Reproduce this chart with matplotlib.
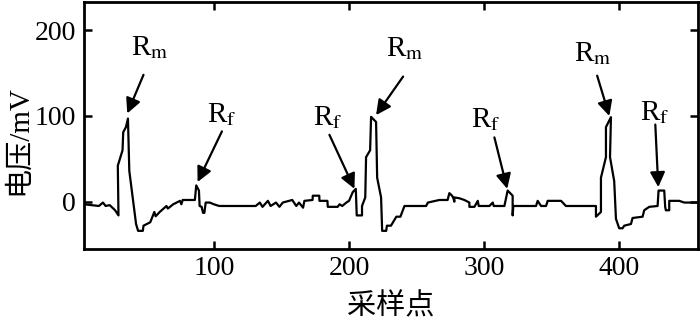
import matplotlib
matplotlib.use("Agg")
import matplotlib.pyplot as plt

plt.rcParams['font.family'] = ['Liberation Serif', 'Noto Sans CJK SC']
plt.rcParams['mathtext.fontset'] = 'stix'

# waveform (sample index, mV)
sample_x = [4, 15, 18, 20, 23, 25, 27, 29.5, 29, 32.5, 33, 35, 36.5, 37.5, 42.5, 44, 47.5, 48,
            53, 54, 56, 57, 60, 65, 66, 70, 75, 76, 77, 86, 87, 89, 89.5, 91, 92, 93, 94, 97,
            100, 104, 126,
            131, 134, 136, 140, 142, 146, 148.5, 151, 158, 161, 163, 166, 167, 173, 173.2, 178,
            178.1, 184, 184.3, 191.6, 193, 195, 198, 200, 202.7, 205, 205.7, 209.6, 209.6, 212,
            212.6, 215.6, 216.3, 220, 220.8, 223.7, 224.5, 227.5, 228, 231, 235, 238, 241, 257,
            258.3, 266.8,
            272.9, 274.2, 276.2, 277.2, 277.9, 277.9, 281.6, 285.3, 289, 289, 292.7, 295.2,
            295.9, 303.8, 306.3, 307, 314.9, 317.3, 319.8, 321, 321, 321.5, 338.3, 339.5, 342,
            345.7, 346.9, 356.8, 360.4, 382.6, 382.6, 386.3, 386.3, 390, 390, 393.7, 393, 396.1,
            397.4, 399.8, 402.3, 403.5, 408.5, 409.7, 417.1, 418.3, 422, 428.2, 428.9, 433.1,
            433.8, 434.3, 436.8, 436.8, 444.2, 447.9, 458]
voltage = [-3, -5, -1, -5, -4, -7, -10, -16, 42, 60, 81, 87, 97, 36, -26, -34, -34, -28,
           -24, -20, -12, -17, -12, -5, -8, -3, 1, -3, 2, 2, 19, 13, -5, -6, -13, -13, -1, -1,
           -3, -5, -5,
           -5, -1, -6, 1, -5, -1, -6, -1, 2, -5, -1, -7, 1, 2, 7, 7,
           1, 1, -6, -6, -3, -5, -1, 1, 11, 15, -16, -16, -5, 5,
           52, 60, 99, 93, 28, 5, -34, -34, -28, -28, -17.5, -17.5, -5, -5,
           -1, 2,
           2, 10, 7, 4, 0, 5, 4, 2, -1, -6, -6, 1,
           -5, -5, -1, -5, -5, 13, 9, 7, -16, -5, -5, 1, -5,
           -5, 1, 1, -5, -5, -17.5, -12, 28, 52, 87, 98.6, 52, 24,
           -20, -31, -31, -28, -26, -19, -17.5, -10, -6, -5, 13, 13,
           -6, -10, -10, 1, 1, -1, -1]

# annotations: label, text position, arrow tail, arrow tip
labels = ['R$_\\mathrm{m}$', 'R$_\\mathrm{f}$', 'R$_\\mathrm{f}$', 'R$_\\mathrm{m}$',
          'R$_\\mathrm{f}$', 'R$_\\mathrm{m}$', 'R$_\\mathrm{f}$']
text_pos = [(53, 180), (106, 102), (184, 98), (241, 178), (301, 96), (380, 173), (426, 104)]
tails = [(48, 148), (106, 82), (185.5, 78), (240, 146), (307.5, 75), (383.5, 147), (426.5, 90)]
tips = [(36, 103), (88, 23), (204, 15), (220, 101), (317, 15), (392.5, 100), (428.7, 17)]

fig = plt.figure(figsize=(7, 3.27), dpi=100)
ax = fig.add_axes([0.12, 0.239, 0.877, 0.755])
ax.plot(sample_x, voltage, color='black', lw=1.6)

for lab, tp, tl, tip in zip(labels, text_pos, tails, tips):
    ax.text(tp[0], tp[1], lab, fontsize=21, ha='center', va='center')
    ax.annotate('', xy=tip, xytext=tl,
                arrowprops=dict(arrowstyle='-|>,head_length=0.9,head_width=0.45',
                                color='black', lw=1.6, shrinkA=0, shrinkB=0))

ax.set_xlim(4, 458)
ax.set_ylim(-55, 233)
ax.set_xticks([100, 200, 300, 400])
ax.set_yticks([0, 100, 200])
ax.tick_params(direction='in', length=6, width=1.8, labelsize=20, pad=6,
               right=True, top=True)
ax.tick_params(axis='x', pad=5)
for s in ax.spines.values():
    s.set_linewidth(2)
ax.set_xlabel('采样点', fontsize=21)
ax.set_ylabel('电压/mV', fontsize=21)
ax.xaxis.set_label_coords(0.5, -0.18)
ax.yaxis.set_label_coords(-0.085, 0.44)

fig.savefig('out.png', dpi=100)
